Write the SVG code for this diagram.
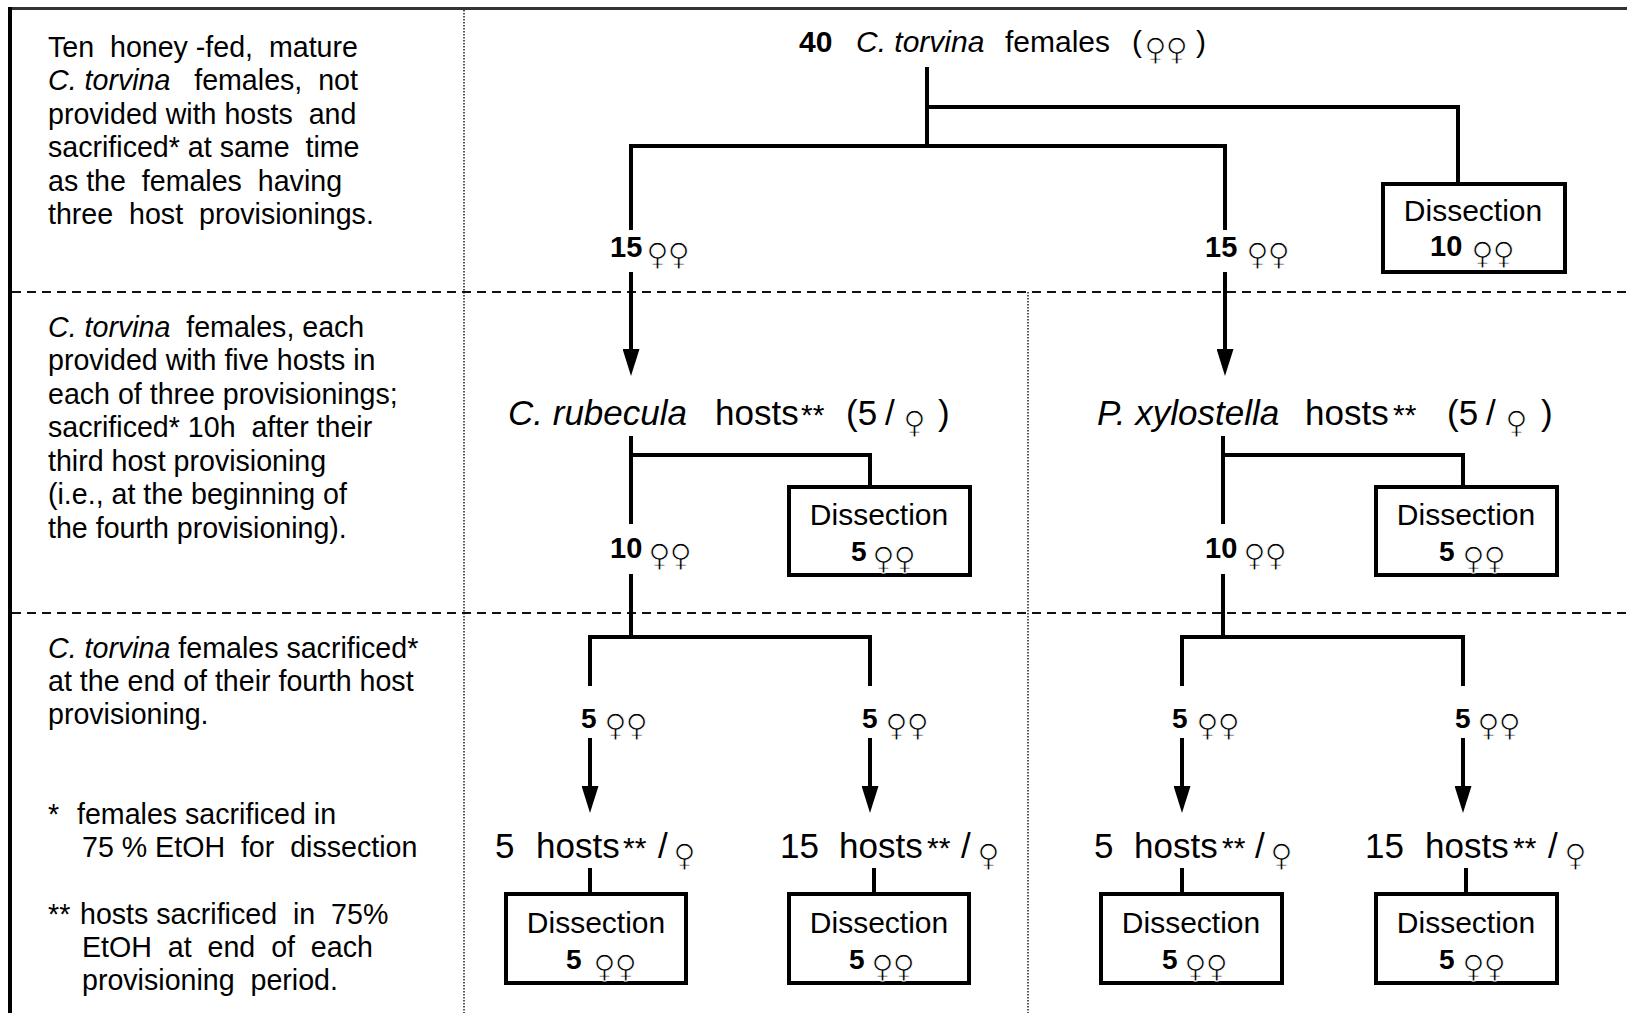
<svg xmlns="http://www.w3.org/2000/svg" width="1627" height="1013" viewBox="0 0 1627 1013">
<style>
text{font-family:"Liberation Sans",Arial,sans-serif;fill:#000;white-space:pre}
.note{font-size:28.6px}
.it{font-style:italic}
.b{font-weight:bold}
.sym{font-family:"DejaVu Sans",sans-serif;font-size:31px;font-weight:normal;font-style:normal;letter-spacing:-1.5px;stroke:#fff;stroke-width:1px}
.big{font-size:35px}
.ast{font-size:30px}
.ttl{font-size:30px}
.cnt{font-size:29px;font-weight:bold}
.c5{font-size:28px;font-weight:bold}
.dis{font-size:30px}
.box{fill:#fff;stroke:#000;stroke-width:4}
.ln{fill:none;stroke:#000;stroke-width:4}
.arr{fill:none;stroke:#000;stroke-width:4;marker-end:url(#ah)}
.dash{stroke:#111;stroke-width:2;stroke-dasharray:9 6}
.dot{stroke:#222;stroke-width:1.5;stroke-dasharray:1.5 1.5}
</style>
<defs>
<marker id="ah" markerUnits="userSpaceOnUse" markerWidth="27" markerHeight="17" refX="17" refY="8.5" orient="auto" viewBox="0 0 27 17"><path d="M0,0 L27,8.5 L0,17 Z" fill="#000"/></marker>
</defs>
<rect width="1627" height="1013" fill="#fff"/>
<g id="frame">
<line x1="10" y1="8.5" x2="1627" y2="8.5" stroke="#333" stroke-width="3"/>
<line x1="10" y1="7" x2="10" y2="1013" stroke="#000" stroke-width="4"/>
<line class="dot" x1="464" y1="10" x2="464" y2="1013"/>
<line class="dot" x1="1028" y1="292" x2="1028" y2="1013"/>
<line class="dash" x1="12" y1="292" x2="1627" y2="292"/>
<line class="dash" x1="12" y1="613" x2="1627" y2="613"/>
</g>
<g id="notes" class="note">
<text xml:space="preserve" x="48" y="57">Ten  honey -fed,  mature</text>
<text xml:space="preserve" x="48" y="90"><tspan class="it">C. torvina</tspan>   females,  not</text>
<text xml:space="preserve" x="48" y="124">provided with hosts  and</text>
<text xml:space="preserve" x="48" y="157">sacrificed* at same  time</text>
<text xml:space="preserve" x="48" y="191">as the  females  having</text>
<text xml:space="preserve" x="48" y="224">three  host  provisionings.</text>
<text xml:space="preserve" x="48" y="337"><tspan class="it">C. torvina</tspan>  females, each</text>
<text xml:space="preserve" x="48" y="370">provided with five hosts in</text>
<text xml:space="preserve" x="48" y="404">each of three provisionings;</text>
<text xml:space="preserve" x="48" y="437">sacrificed* 10h  after their</text>
<text xml:space="preserve" x="48" y="471">third host provisioning</text>
<text xml:space="preserve" x="48" y="504">(i.e., at the beginning of</text>
<text xml:space="preserve" x="48" y="538">the fourth provisioning).</text>
<text xml:space="preserve" x="48" y="658"><tspan class="it">C. torvina</tspan> females sacrificed*</text>
<text xml:space="preserve" x="48" y="691">at the end of their fourth host</text>
<text xml:space="preserve" x="48" y="724">provisioning.</text>
<text xml:space="preserve" x="48" y="824">*</text>
<text xml:space="preserve" x="77" y="824">females sacrificed in</text>
<text xml:space="preserve" x="82" y="857">75 % EtOH  for  dissection</text>
<text xml:space="preserve" x="48" y="924">**</text>
<text xml:space="preserve" x="80" y="924">hosts sacrificed  in  75%</text>
<text xml:space="preserve" x="82" y="957">EtOH  at  end  of  each</text>
<text xml:space="preserve" x="82" y="990">provisioning  period.</text>
</g>
<g id="connectors">
<path class="ln" d="M927,67 V146"/>
<path class="ln" d="M927,107 H1458 V184"/>
<path class="ln" d="M631,230 V146 H1225 V230"/>
<path class="arr" d="M631,272 V366"/>
<path class="arr" d="M1225,272 V366"/>
<path class="ln" d="M631,436 V524"/>
<path class="ln" d="M631,455 H870 V487"/>
<path class="ln" d="M631,574 V637"/>
<path class="ln" d="M590,686 V637 H870 V686"/>
<path class="arr" d="M590,738 V803"/>
<path class="arr" d="M870,738 V803"/>
<path class="ln" d="M590,868 V894"/>
<path class="ln" d="M874,868 V894"/>
<path class="ln" d="M1223,436 V524"/>
<path class="ln" d="M1223,455 H1463 V487"/>
<path class="ln" d="M1223,574 V637"/>
<path class="ln" d="M1182,686 V637 H1463 V686"/>
<path class="arr" d="M1182,738 V803"/>
<path class="arr" d="M1463,738 V803"/>
<path class="ln" d="M1182,868 V894"/>
<path class="ln" d="M1466,868 V894"/>
</g>
<g id="n-root">
<text xml:space="preserve" class="ttl" y="52"><tspan class="b" x="799">40</tspan><tspan class="it" x="856">C. torvina</tspan><tspan x="1005">females</tspan><tspan x="1132">(</tspan><tspan class="sym" x="1144" dy="8">♀♀</tspan><tspan x="1196" dy="-8">)</tspan></text>
</g>
<g id="n-dis-top">
<rect class="box" x="1383" y="184" width="182" height="88"/>
<text class="dis" x="1473" y="221" text-anchor="middle">Dissection</text>
<text y="256"><tspan class="cnt" x="1430">10</tspan><tspan class="sym" x="1471" dy="8">♀♀</tspan></text>
</g>
<g id="n-15-left"><text y="257"><tspan class="cnt" x="610">15</tspan><tspan class="sym" x="646" dy="8">♀♀</tspan></text></g>
<g id="n-15-right"><text y="257"><tspan class="cnt" x="1205">15</tspan><tspan class="sym" x="1246" dy="8">♀♀</tspan></text></g>
<g id="n-rubecula">
<text class="big" y="425"><tspan class="it" x="508">C. rubecula</tspan><tspan x="715">hosts</tspan><tspan class="ast" x="801">**</tspan><tspan x="846">(5</tspan><tspan x="885">/</tspan><tspan class="sym" x="903" dy="8">♀</tspan><tspan x="938" dy="-8">)</tspan></text>
</g>
<g id="n-xylostella">
<text class="big" y="425"><tspan class="it" x="1097">P. xylostella</tspan><tspan x="1305">hosts</tspan><tspan class="ast" x="1393">**</tspan><tspan x="1447">(5</tspan><tspan x="1486">/</tspan><tspan class="sym" x="1505" dy="8">♀</tspan><tspan x="1541" dy="-8">)</tspan></text>
</g>
<g id="n-10-left"><text y="558"><tspan class="cnt" x="610">10</tspan><tspan class="sym" x="648" dy="8">♀♀</tspan></text></g>
<g id="n-10-right"><text y="558"><tspan class="cnt" x="1205">10</tspan><tspan class="sym" x="1243" dy="8">♀♀</tspan></text></g>
<g id="n-dis-rub">
<rect class="box" x="789" y="487" width="181" height="88"/>
<text class="dis" x="879" y="525" text-anchor="middle">Dissection</text>
<text y="561"><tspan class="c5" x="851">5</tspan><tspan class="sym" x="872" dy="8">♀♀</tspan></text>
</g>
<g id="n-dis-xyl">
<rect class="box" x="1376" y="487" width="181" height="88"/>
<text class="dis" x="1466" y="525" text-anchor="middle">Dissection</text>
<text y="561"><tspan class="c5" x="1439">5</tspan><tspan class="sym" x="1462" dy="8">♀♀</tspan></text>
</g>
<g id="n-5-a"><text y="728"><tspan class="c5" x="581">5</tspan><tspan class="sym" x="604" dy="8">♀♀</tspan></text></g>
<g id="n-5-b"><text y="728"><tspan class="c5" x="862">5</tspan><tspan class="sym" x="885" dy="8">♀♀</tspan></text></g>
<g id="n-5-c"><text y="728"><tspan class="c5" x="1172">5</tspan><tspan class="sym" x="1196" dy="8">♀♀</tspan></text></g>
<g id="n-5-d"><text y="728"><tspan class="c5" x="1455">5</tspan><tspan class="sym" x="1477" dy="8">♀♀</tspan></text></g>
<g id="n-hosts-a"><text class="big" y="858"><tspan x="495">5</tspan><tspan x="536">hosts</tspan><tspan class="ast" x="623">**</tspan><tspan x="658">/</tspan><tspan class="sym" x="673" dy="8">♀</tspan></text></g>
<g id="n-hosts-b"><text class="big" y="858"><tspan x="780">15</tspan><tspan x="839">hosts</tspan><tspan class="ast" x="927">**</tspan><tspan x="961">/</tspan><tspan class="sym" x="977" dy="8">♀</tspan></text></g>
<g id="n-hosts-c"><text class="big" y="858"><tspan x="1094">5</tspan><tspan x="1134">hosts</tspan><tspan class="ast" x="1222">**</tspan><tspan x="1255">/</tspan><tspan class="sym" x="1270" dy="8">♀</tspan></text></g>
<g id="n-hosts-d"><text class="big" y="858"><tspan x="1365">15</tspan><tspan x="1425">hosts</tspan><tspan class="ast" x="1513">**</tspan><tspan x="1548">/</tspan><tspan class="sym" x="1564" dy="8">♀</tspan></text></g>
<g id="n-dis-a">
<rect class="box" x="506" y="894" width="180" height="89"/>
<text class="dis" x="596" y="933" text-anchor="middle">Dissection</text>
<text y="969"><tspan class="c5" x="566">5</tspan><tspan class="sym" x="593" dy="8">♀♀</tspan></text>
</g>
<g id="n-dis-b">
<rect class="box" x="789" y="894" width="180" height="89"/>
<text class="dis" x="879" y="933" text-anchor="middle">Dissection</text>
<text y="969"><tspan class="c5" x="849">5</tspan><tspan class="sym" x="871" dy="8">♀♀</tspan></text>
</g>
<g id="n-dis-c">
<rect class="box" x="1101" y="894" width="181" height="89"/>
<text class="dis" x="1191" y="933" text-anchor="middle">Dissection</text>
<text y="969"><tspan class="c5" x="1162">5</tspan><tspan class="sym" x="1184" dy="8">♀♀</tspan></text>
</g>
<g id="n-dis-d">
<rect class="box" x="1376" y="894" width="181" height="89"/>
<text class="dis" x="1466" y="933" text-anchor="middle">Dissection</text>
<text y="969"><tspan class="c5" x="1439">5</tspan><tspan class="sym" x="1462" dy="8">♀♀</tspan></text>
</g>
</svg>
